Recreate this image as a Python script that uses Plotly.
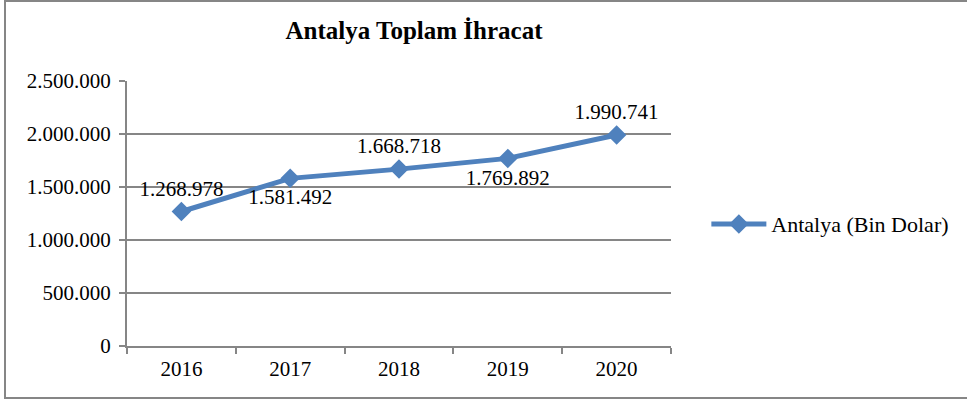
import plotly.graph_objects as go

# --- data ---
years = ["2016", "2017", "2018", "2019", "2020"]
exports = [1268978, 1581492, 1668718, 1769892, 1990741]
label_pos = ["top center", "bottom center", "top center", "bottom center", "top center"]
y_ticks = [0, 500000, 1000000, 1500000, 2000000, 2500000]

BLUE = "#4F81BD"
GRID = "#868686"
FONT = "Liberation Serif"

fig = go.Figure()
fig.add_trace(
    go.Scatter(
        x=years,
        y=exports,
        mode="lines+markers+text",
        name="Antalya (Bin Dolar)",
        line=dict(color=BLUE, width=5),
        marker=dict(symbol="diamond", size=15, color=BLUE),
        texttemplate="%{y:,.0f}",
        textposition=label_pos,
        textfont=dict(family=FONT, size=21, color="black"),
        cliponaxis=False,
    )
)

fig.update_xaxes(
    type="category",
    range=[-0.5, 4.5],
    tickson="boundaries",
    ticks="outside",
    ticklen=6,
    tickwidth=2,
    tickcolor=GRID,
    showline=True,
    linecolor=GRID,
    linewidth=2,
    showgrid=False,
    ticklabelstandoff=3,
    tickfont=dict(family=FONT, size=21, color="black"),
)
fig.update_yaxes(
    range=[0, 2500000],
    tickvals=y_ticks,
    tickformat=",.0f",
    ticks="outside",
    ticklen=6,
    tickwidth=2,
    tickcolor=GRID,
    showline=True,
    linecolor=GRID,
    linewidth=2,
    gridcolor=GRID,
    gridwidth=2,
    zeroline=False,
    ticklabelstandoff=4,
    tickfont=dict(family=FONT, size=21, color="black"),
)

fig.update_layout(
    width=967,
    height=402,
    separators=",.",
    plot_bgcolor="white",
    paper_bgcolor="white",
    margin=dict(l=127, r=296, t=81, b=56),
    title=dict(
        text="<b>Antalya Toplam İhracat</b>",
        x=414 / 967,
        xanchor="center",
        y=1 - 30 / 402,
        yanchor="middle",
        font=dict(family=FONT, size=25, color="black"),
    ),
    showlegend=True,
    legend=dict(
        x=1.065,
        xanchor="left",
        y=0.46,
        yanchor="middle",
        font=dict(family=FONT, size=22, color="black"),
        itemwidth=55,
        bgcolor="rgba(0,0,0,0)",
    ),
    shapes=[
        dict(
            type="rect",
            xref="paper",
            yref="paper",
            x0=-122 / 544,
            x1=845 / 544,
            y0=-52 / 265,
            y1=345 / 265,
            line=dict(color=GRID, width=2),
            layer="below",
        )
    ],
)

fig.write_html(
    "out.html",
    config={"displayModeBar": False},
    post_script="document.body.style.margin='0';",
)
